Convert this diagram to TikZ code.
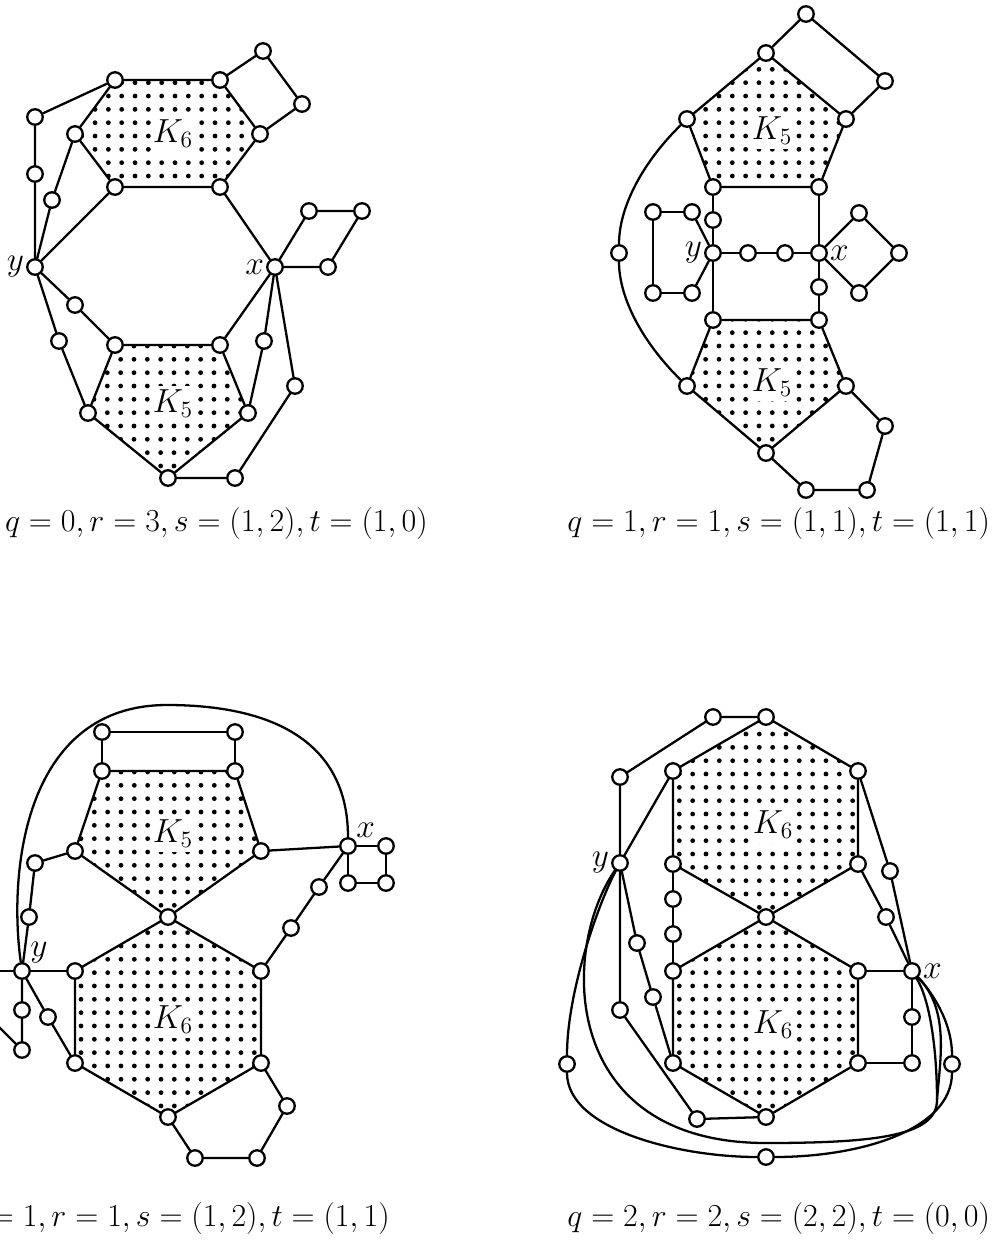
\RequirePackage{fix-cm}
\documentclass[tikz,border=0pt]{standalone}
\usetikzlibrary{backgrounds}
\newcommand{\bigFont}{\fontsize{19}{22}\selectfont}
\newcommand{\capFont}{\fontsize{18.2}{22}\selectfont}
% dotted interior: clip path, x0, y0, nx, ny (pixel units of the picture)
\newcommand{\dotPoly}[5]{%
  \begin{scope}[on background layer]
  \begin{scope}
    \clip #1;
    \foreach \i in {0,...,#4}{%
      \foreach \j in {0,...,#5}{%
        \fill (#2+13.33*\i, #3+13.33*\j) circle[radius=2.4];}}
  \end{scope}
  \end{scope}}
\tikzset{
  vertex/.style={circle, draw=black, fill=white, line width=1.3pt,
    minimum size=0.31cm, inner sep=0pt},
  graphEdge/.style={line width=1.3pt, line cap=round, line join=round},
  kLabel/.style={fill=white, inner xsep=1pt, inner ysep=2.5pt, font=\bigFont},
  vLabel/.style={inner sep=1pt, font=\bigFont},
  capText/.style={font=\capFont, inner sep=0pt},
}
\begin{document}
\begin{tikzpicture}[x=0.02cm, y=-0.02cm]
\useasboundingbox (0,0) rectangle (995,1248);

% ============================================================
% Panel 1: q=0, r=3
% ============================================================
\node[vertex] (a1) at (115,80) {};
\node[vertex] (a2) at (220,80) {};
\node[vertex] (a3) at (260,134) {};
\node[vertex] (a4) at (220,187) {};
\node[vertex] (a5) at (115,187) {};
\node[vertex] (a6) at (75,134) {};
\node[vertex] (a7) at (263,51) {};
\node[vertex] (a8) at (302,104) {};
\node[vertex, label={[vLabel]left:$y$}] (ay) at (35,267) {};
\node[vertex, label={[vLabel]left:$x$}] (ax) at (275,267) {};
\node[vertex] (a9) at (35,174) {};
\node[vertex] (a10) at (35,117) {};
\node[vertex] (a11) at (52,200) {};
\node[vertex] (a12) at (309,211) {};
\node[vertex] (a13) at (362,211) {};
\node[vertex] (a14) at (328,267) {};
\node[vertex] (b1) at (115,345) {};
\node[vertex] (b2) at (220,345) {};
\node[vertex] (b3) at (248,413) {};
\node[vertex] (b4) at (168,478) {};
\node[vertex] (b5) at (88,413) {};
\node[vertex] (a15) at (75,305) {};
\node[vertex] (a16) at (59,341) {};
\node[vertex] (a17) at (264,341) {};
\node[vertex] (a18) at (295,386) {};
\node[vertex] (a19) at (235,478) {};

\node[kLabel] (ka) at (173,134) {$K_6$};
\node[kLabel] (kb) at (173,404) {$K_5$};

\dotPoly{(a1.center) -- (a2.center) -- (a3.center) -- (a4.center)
  -- (a5.center) -- (a6.center) -- cycle}{81.7}{82.7}{14}{8}
\dotPoly{(b1.center) -- (b2.center) -- (b3.center) -- (b4.center)
  -- (b5.center) -- cycle}{94}{346}{12}{10}

\draw[graphEdge] (a1) -- (a2) -- (a3) -- (a4) -- (a5) -- (a6) -- (a1);
\draw[graphEdge] (a2) -- (a7) -- (a8) -- (a3);
\draw[graphEdge] (ay) -- (a9) -- (a10) -- (a1);
\draw[graphEdge] (ay) -- (a11) -- (a6);
\draw[graphEdge] (ay) -- (a5);
\draw[graphEdge] (a4) -- (ax);
\draw[graphEdge] (ax) -- (a12) -- (a13) -- (a14) -- (ax);
\draw[graphEdge] (b1) -- (b2) -- (b3) -- (b4) -- (b5) -- (b1);
\draw[graphEdge] (ay) -- (a15) -- (b1);
\draw[graphEdge] (ay) -- (a16) -- (b5);
\draw[graphEdge] (ax) -- (b2);
\draw[graphEdge] (ax) -- (a17) -- (b3);
\draw[graphEdge] (ax) -- (a18) -- (a19) -- (b4);

\node[capText, anchor=east] (capA) at (428,523)
  {$q=0, r=3, s=(1,2), t=(1,0)$};

% ============================================================
% Panel 2: q=1, r=1
% ============================================================
\node[vertex] (c1) at (766,53) {};
\node[vertex] (c2) at (846,119) {};
\node[vertex] (c3) at (819,187) {};
\node[vertex] (c4) at (713,187) {};
\node[vertex] (c5) at (687,119) {};
\node[vertex] (c6) at (806,14) {};
\node[vertex] (c7) at (885,81) {};
\node[vertex, label={[vLabel]left:$y$}] (cy) at (713,253) {};
\node[vertex, label={[vLabel]right:$x$}] (cx) at (819,253) {};
\node[vertex] (c8) at (713,220) {};
\node[vertex] (c9) at (748,253) {};
\node[vertex] (c10) at (785,253) {};
\node[vertex] (c11) at (819,287) {};
\node[vertex] (d1) at (713,320) {};
\node[vertex] (d2) at (819,320) {};
\node[vertex] (d3) at (846,386) {};
\node[vertex] (d4) at (766,453) {};
\node[vertex] (d5) at (687,386) {};
\node[vertex] (c12) at (653,212) {};
\node[vertex] (c13) at (692,212) {};
\node[vertex] (c14) at (653,293) {};
\node[vertex] (c15) at (692,293) {};
\node[vertex] (c16) at (859,213) {};
\node[vertex] (c17) at (899,253) {};
\node[vertex] (c18) at (859,293) {};
\node[vertex] (c19) at (619,253) {};
\node[vertex] (c20) at (885,426) {};
\node[vertex] (c21) at (867,490) {};
\node[vertex] (c22) at (806,490) {};

\node[kLabel] (kc) at (772,131) {$K_5$};
\node[kLabel] (kd) at (772,383) {$K_5$};

\dotPoly{(c1.center) -- (c2.center) -- (c3.center) -- (c4.center)
  -- (c5.center) -- cycle}{692.3}{56}{12}{10}
\dotPoly{(d1.center) -- (d2.center) -- (d3.center) -- (d4.center)
  -- (d5.center) -- cycle}{692.3}{319.3}{12}{10}

\draw[graphEdge] (c1) -- (c2) -- (c3) -- (c4) -- (c5) -- (c1);
\draw[graphEdge] (c1) -- (c6) -- (c7) -- (c2);
\draw[graphEdge] (c4) -- (c8) -- (cy) -- (d1);
\draw[graphEdge] (c3) -- (cx) -- (c11) -- (d2);
\draw[graphEdge] (cy) -- (c9) -- (c10) -- (cx);
\draw[graphEdge] (d1) -- (d2) -- (d3) -- (d4) -- (d5) -- (d1);
\draw[graphEdge] (c13) -- (c12) -- (c14) -- (c15);
\draw[graphEdge] (c13) -- (cy) -- (c15);
\draw[graphEdge] (cx) -- (c16) -- (c17) -- (c18) -- (cx);
\draw[graphEdge] (d3) -- (c20) -- (c21) -- (c22) -- (d4);
\draw[graphEdge] (c5) .. controls (645,160) and (619,205) .. (c19)
  .. controls (619,300) and (645,345) .. (d5);

\node[capText, anchor=west] (capB) at (567,523)
  {$q=1, r=1, s=(1,1), t=(1,1)$};

% ============================================================
% Panel 3: q=1, r=1, s=(1,2)
% ============================================================
\node[vertex] (e1) at (102,732) {};
\node[vertex] (e2) at (235,732) {};
\node[vertex] (f1) at (102,771) {};
\node[vertex] (f2) at (235,771) {};
\node[vertex] (f3) at (261,851) {};
\node[vertex] (f4) at (168,917) {};
\node[vertex] (f5) at (75,851) {};
\node[vertex] (g2) at (261,971) {};
\node[vertex] (g3) at (261,1063) {};
\node[vertex] (g4) at (168,1117) {};
\node[vertex] (g5) at (75,1063) {};
\node[vertex] (g6) at (75,971) {};
\node[vertex, label={[vLabel]above right:$x$}] (ex) at (348,846) {};
\node[vertex] (e3) at (386,846) {};
\node[vertex] (e4) at (386,883) {};
\node[vertex] (e5) at (348,883) {};
\node[vertex, label={[vLabel]above right:$y$}] (ey) at (22,971) {};
\node[vertex] (e6) at (35,863) {};
\node[vertex] (e7) at (29,917) {};
\node[vertex] (e8) at (22,1010) {};
\node[vertex] (e9) at (22,1050) {};
\node[vertex] (e10) at (48,1017) {};
\node[vertex] (e11) at (291,928) {};
\node[vertex] (e12) at (319,887) {};
\node[vertex] (e13) at (287,1106) {};
\node[vertex] (e14) at (257,1158) {};
\node[vertex] (e15) at (195,1158) {};
\coordinate (eOffA) at (-30,971);
\coordinate (eOffB) at (-30,998);
\coordinate (eTop) at (167,705);

\node[kLabel] (ke) at (173,834) {$K_5$};
\node[kLabel] (kf) at (173,1020) {$K_6$};

\dotPoly{(f1.center) -- (f2.center) -- (f3.center) -- (f4.center)
  -- (f5.center) -- cycle}{81}{772}{14}{11}
\dotPoly{(f4.center) -- (g2.center) -- (g3.center) -- (g4.center)
  -- (g5.center) -- (g6.center) -- cycle}{67.7}{919.3}{15}{15}

\draw[graphEdge] (e2) -- (e1) -- (f1);
\draw[graphEdge] (e2) -- (f2);
\draw[graphEdge] (f1) -- (f2) -- (f3) -- (f4) -- (f5) -- (f1);
\draw[graphEdge] (f4) -- (g2) -- (g3) -- (g4) -- (g5) -- (g6) -- (f4);
\draw[graphEdge] (f3) -- (ex);
\draw[graphEdge] (ex) -- (e3) -- (e4) -- (e5) -- (ex);
\draw[graphEdge] (ex) .. controls (348,740) and (270,705) .. (eTop)
  .. controls (25,705) and (8,870) .. (ey);
\draw[graphEdge] (eOffA) -- (ey) -- (g6);
\draw[graphEdge] (ey) -- (e7) -- (e6) -- (f5);
\draw[graphEdge] (ey) -- (e8) -- (e9) -- (eOffB);
\draw[graphEdge] (ey) -- (e10) -- (g5);
\draw[graphEdge] (g2) -- (e11) -- (e12) -- (ex);
\draw[graphEdge] (g3) -- (e13) -- (e14) -- (e15) -- (g4);

\node[capText, anchor=east] (capC) at (390,1218)
  {$q=1, r=1, s=(1,2), t=(1,1)$};

% ============================================================
% Panel 4: q=2, r=2
% ============================================================
\node[vertex] (h1) at (766,717) {};
\node[vertex] (h2) at (858,771) {};
\node[vertex] (h3) at (858,864) {};
\node[vertex] (hc) at (766,917) {};
\node[vertex] (h5) at (673,864) {};
\node[vertex] (h6) at (673,771) {};
\node[vertex] (i2) at (858,971) {};
\node[vertex] (i3) at (858,1063) {};
\node[vertex] (i4) at (766,1117) {};
\node[vertex] (i5) at (673,1063) {};
\node[vertex] (i6) at (673,971) {};
\node[vertex] (h7) at (713,717) {};
\node[vertex] (h8) at (620,777) {};
\node[vertex, label={[vLabel]left:$y$}] (hy) at (620,863) {};
\node[vertex] (h9) at (673,899) {};
\node[vertex] (h10) at (673,934) {};
\node[vertex] (h11) at (890,871) {};
\node[vertex] (h12) at (886,917) {};
\node[vertex, label={[vLabel]right:$x$}] (hx) at (912,971) {};
\node[vertex] (h13) at (912,1017) {};
\node[vertex] (h14) at (912,1063) {};
\node[vertex] (h15) at (620,1010) {};
\node[vertex] (h16) at (697,1119) {};
\node[vertex] (h17) at (637,943) {};
\node[vertex] (h18) at (653,997) {};
\node[vertex] (h19) at (567,1064) {};
\node[vertex] (h20) at (766,1157) {};
\node[vertex] (h21) at (952,1064) {};
\coordinate (hLow) at (766,1143);
\coordinate (hMerge) at (937,1100);

\node[kLabel] (kh) at (773,825) {$K_6$};
\node[kLabel] (ki) at (773,1025) {$K_6$};

\dotPoly{(h1.center) -- (h2.center) -- (h3.center) -- (hc.center)
  -- (h5.center) -- (h6.center) -- cycle}{666}{720.7}{15}{15}
\dotPoly{(hc.center) -- (i2.center) -- (i3.center) -- (i4.center)
  -- (i5.center) -- (i6.center) -- cycle}{666}{919.3}{15}{15}

\draw[graphEdge] (h1) -- (h2) -- (h3) -- (hc) -- (h5) -- (h6) -- (h1);
\draw[graphEdge] (hc) -- (i2) -- (i3) -- (i4) -- (i5) -- (i6) -- (hc);
\draw[graphEdge] (h5) -- (h9) -- (h10) -- (i6);
\draw[graphEdge] (h1) -- (h7) -- (h8) -- (hy) -- (h6);
\draw[graphEdge] (h2) -- (h11) -- (hx);
\draw[graphEdge] (h3) -- (h12) -- (hx);
\draw[graphEdge] (i2) -- (hx) -- (h13) -- (h14) -- (i3);
\draw[graphEdge] (hy) -- (h15) -- (h16) -- (i4);
\draw[graphEdge] (hy) -- (h17) -- (h18) -- (i5);
\draw[graphEdge] (hy) .. controls (600,900) and (567,990) .. (h19)
  .. controls (567,1130) and (680,1157) .. (h20)
  .. controls (860,1157) and (952,1130) .. (h21)
  .. controls (952,1020) and (930,990) .. (hx);
\draw[graphEdge] (hy) .. controls (560,950) and (560,1143) .. (hLow)
  .. controls (880,1143) and (937,1135) .. (hMerge)
  .. controls (937,1050) and (930,1000) .. (hx);
\draw[graphEdge] (hMerge) .. controls (940,1060) and (950,1010) .. (hx);

\node[capText, anchor=west] (capD) at (567,1218)
  {$q=2, r=2, s=(2,2), t=(0,0)$};

\end{tikzpicture}
\end{document}
